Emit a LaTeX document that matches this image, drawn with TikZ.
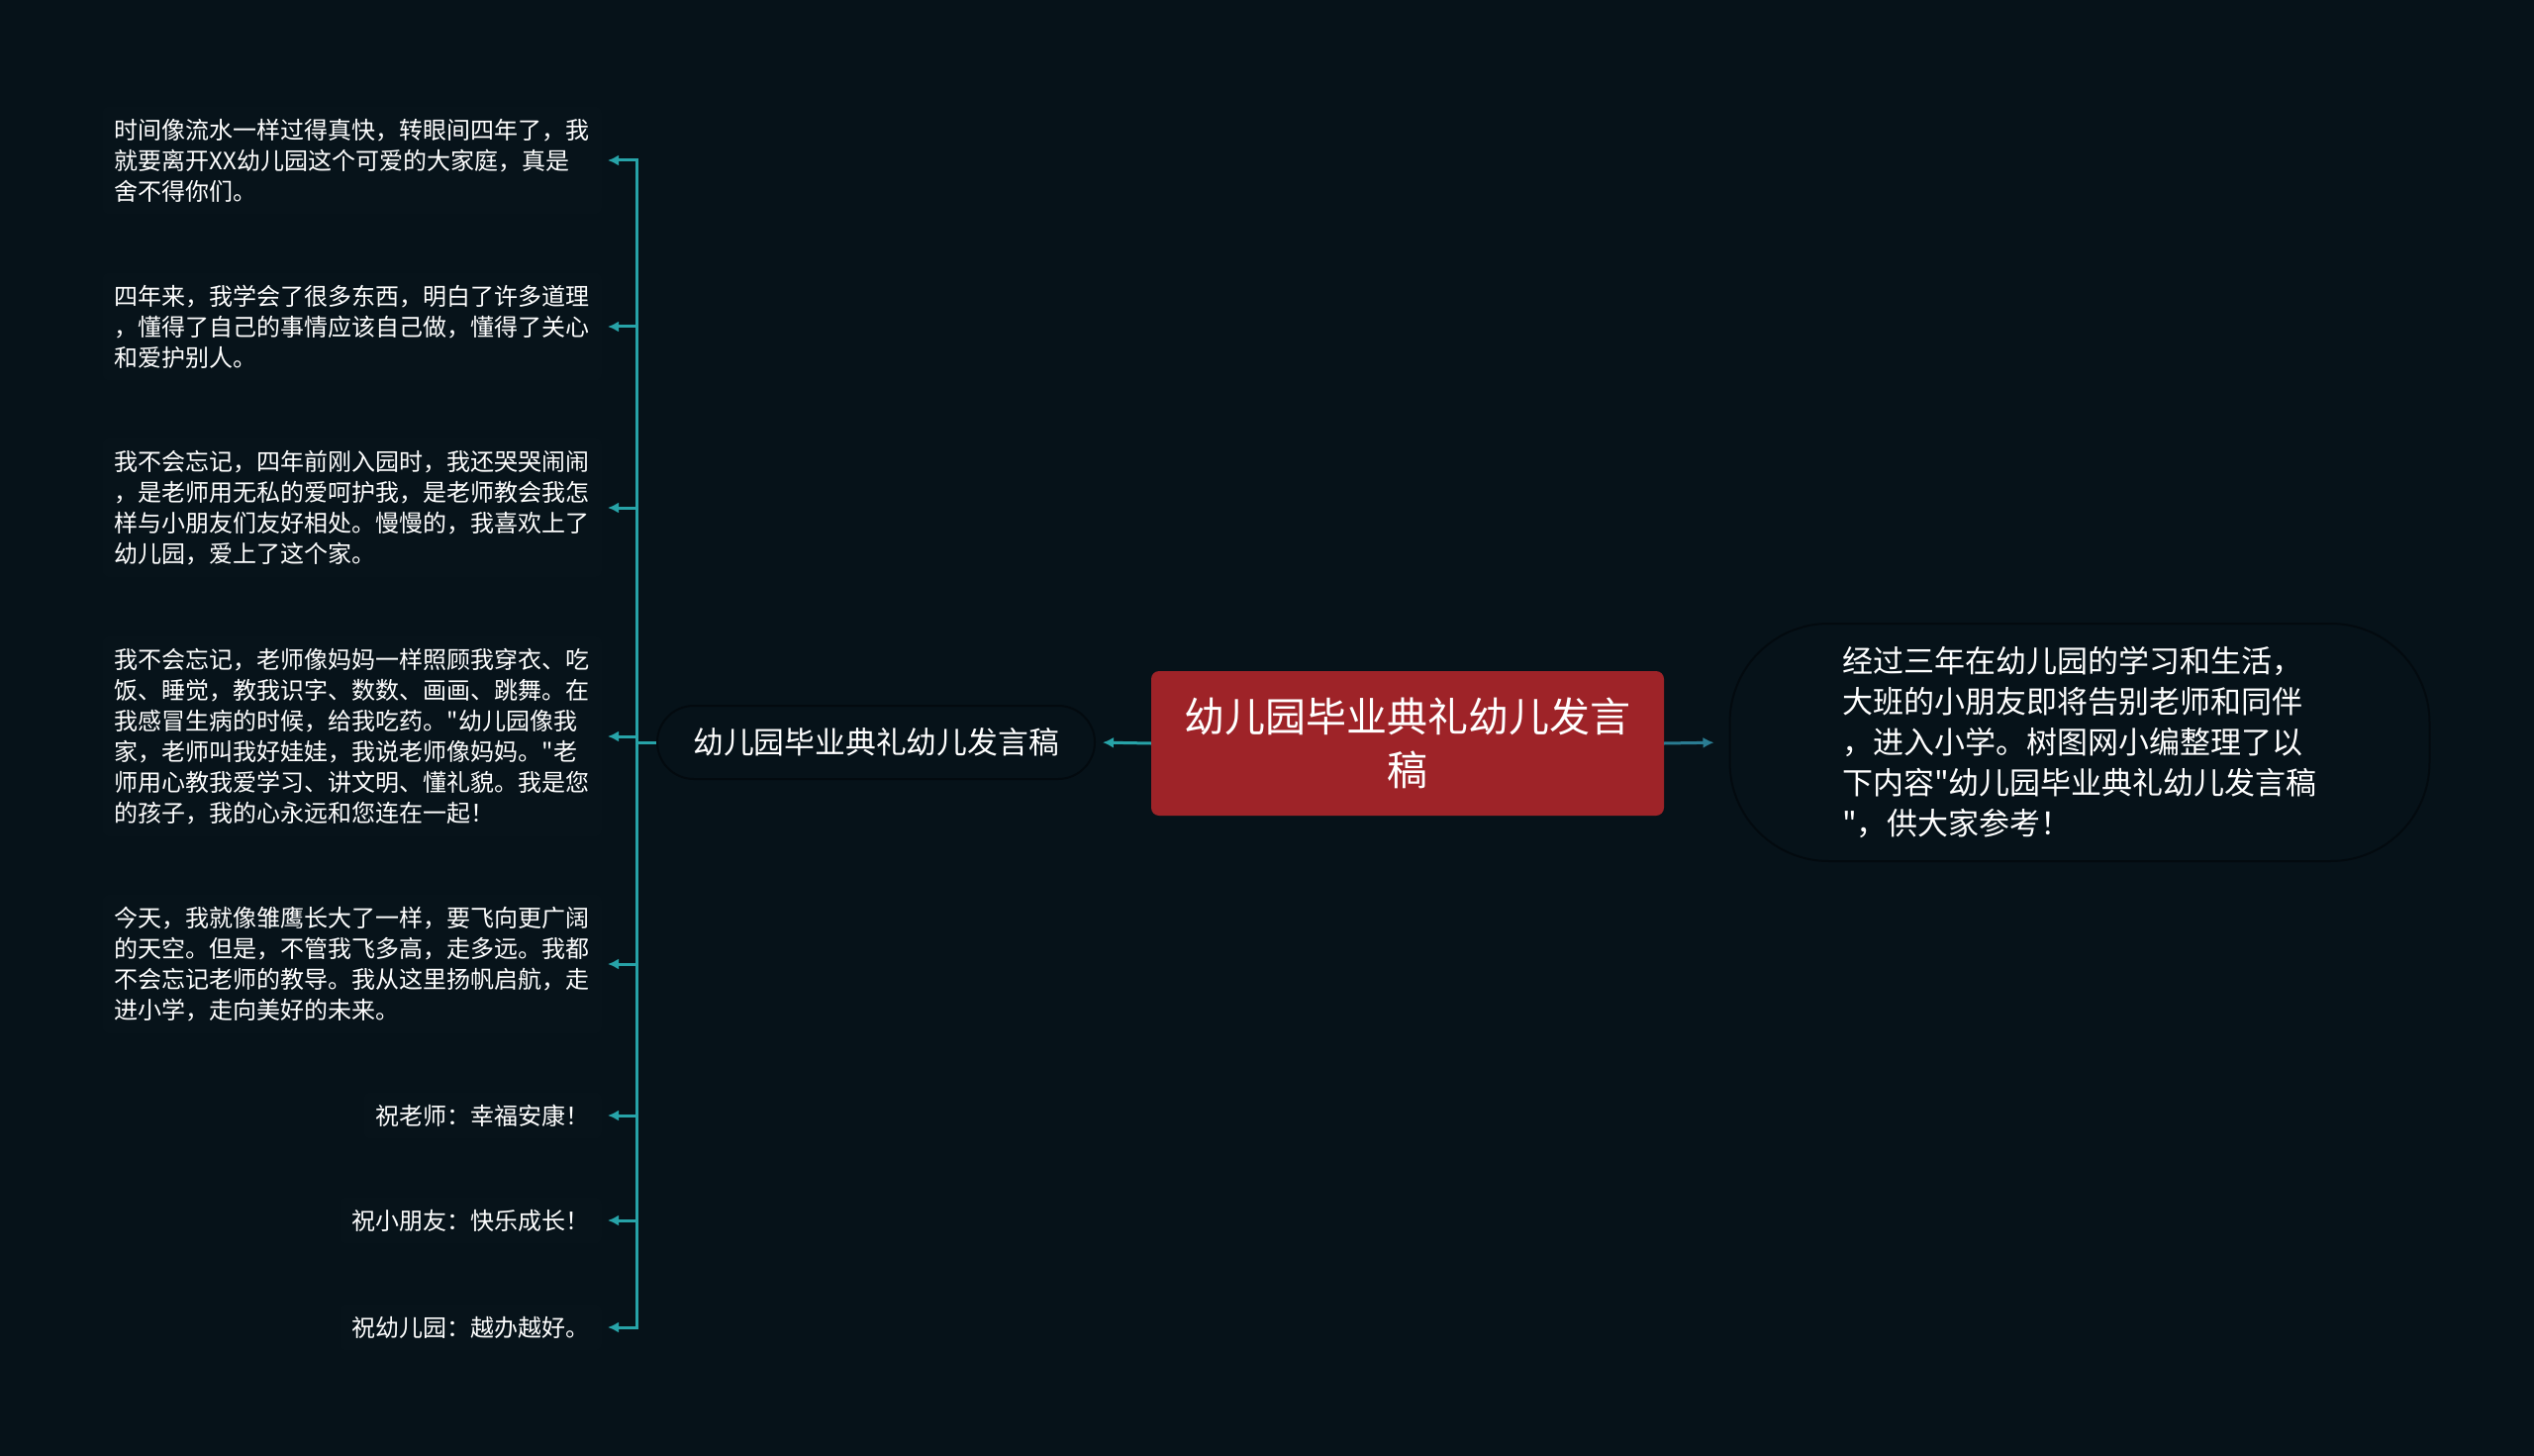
\documentclass[tikz,border=0pt]{standalone}
\usepackage{fontspec}
\newfontfamily\cjk{Noto Sans CJK SC}
\usetikzlibrary{arrows.meta}
\definecolor{bg}{HTML}{061219}
\definecolor{tealA}{HTML}{27A3A8}
\definecolor{tealB}{HTML}{2A7C92}
\definecolor{redbox}{HTML}{9E2328}
\definecolor{leafbg}{HTML}{07131A}
\definecolor{edgedark}{HTML}{030A0F}
\begin{document}
\begin{tikzpicture}[x=1pt,y=-1pt,
  leaf/.style={anchor=east, align=left, font=\cjk\fontsize{24}{31}\selectfont, text=white,
    fill=leafbg, rounded corners=6pt, inner xsep=12pt, inner ysep=12pt},
  rootbox/.style={align=center, font=\cjk\fontsize{41}{54}\selectfont, text=white, fill=redbox,
    rounded corners=8pt, minimum width=518pt, minimum height=146pt, inner sep=0pt},
  midbox/.style={align=center, font=\cjk\fontsize{30.8}{40}\selectfont, text=white, fill=bg,
    draw=edgedark, line width=2pt, rounded corners=37pt, minimum width=442pt, minimum height=74pt, inner sep=0pt},
  descbox/.style={align=left, font=\cjk\fontsize{31}{41}\selectfont, text=white, fill=bg,
    draw=edgedark, line width=2pt, rounded corners=100pt, minimum width=707pt, minimum height=240pt, inner sep=0pt},
  conn/.style={draw=tealA, line width=3pt, -{Latex[length=11pt,width=11pt]}},
  connB/.style={draw=tealB, line width=3pt, -{Latex[length=11pt,width=11pt]}},
  trunkline/.style={draw=tealA, line width=3pt}
]
\fill[bg] (0,0) rectangle (2560,1471);

\node[rootbox] (root) at (1422,751) {幼儿园毕业典礼幼儿发言\\稿};
\node[midbox] (mid) at (885,750) {幼儿园毕业典礼幼儿发言稿};
\node[descbox] (desc) at (2101,750) {经过三年在幼儿园的学习和生活，\\大班的小朋友即将告别老师和同伴\\，进入小学。树图网小编整理了以\\下内容"幼儿园毕业典礼幼儿发言稿\\"，供大家参考！};

\node[leaf] (l1) at (608,162) {时间像流水一样过得真快，转眼间四年了，我\\就要离开XX幼儿园这个可爱的大家庭，真是\\舍不得你们。};
\node[leaf] (l2) at (608,330) {四年来，我学会了很多东西，明白了许多道理\\，懂得了自己的事情应该自己做，懂得了关心\\和爱护别人。};
\node[leaf] (l3) at (608,513) {我不会忘记，四年前刚入园时，我还哭哭闹闹\\，是老师用无私的爱呵护我，是老师教会我怎\\样与小朋友们友好相处。慢慢的，我喜欢上了\\幼儿园，爱上了这个家。};
\node[leaf] (l4) at (608,744) {我不会忘记，老师像妈妈一样照顾我穿衣、吃\\饭、睡觉，教我识字、数数、画画、跳舞。在\\我感冒生病的时候，给我吃药。"幼儿园像我\\家，老师叫我好娃娃，我说老师像妈妈。"老\\师用心教我爱学习、讲文明、懂礼貌。我是您\\的孩子，我的心永远和您连在一起！};
\node[leaf] (l5) at (608,974) {今天，我就像雏鹰长大了一样，要飞向更广阔\\的天空。但是，不管我飞多高，走多远。我都\\不会忘记老师的教导。我从这里扬帆启航，走\\进小学，走向美好的未来。};
\node[leaf] (l6) at (608,1127) {祝老师：幸福安康！};
\node[leaf] (l7) at (608,1233) {祝小朋友：快乐成长！};
\node[leaf] (l8) at (608,1341) {祝幼儿园：越办越好。};

\coordinate (trunk) at (643,750);

\draw[conn, shorten >=7pt] (root.west) -- (mid.east);
\draw[connB, shorten >=15pt] (root.east) -- (desc.west);
\draw[trunkline] (mid.west) -- (trunk);
\foreach \n in {l1,l2,l3,l4,l5,l6,l7,l8}{
  \draw[conn, shorten >=6pt] (trunk) |- (\n.east);
}
\end{tikzpicture}
\end{document}
